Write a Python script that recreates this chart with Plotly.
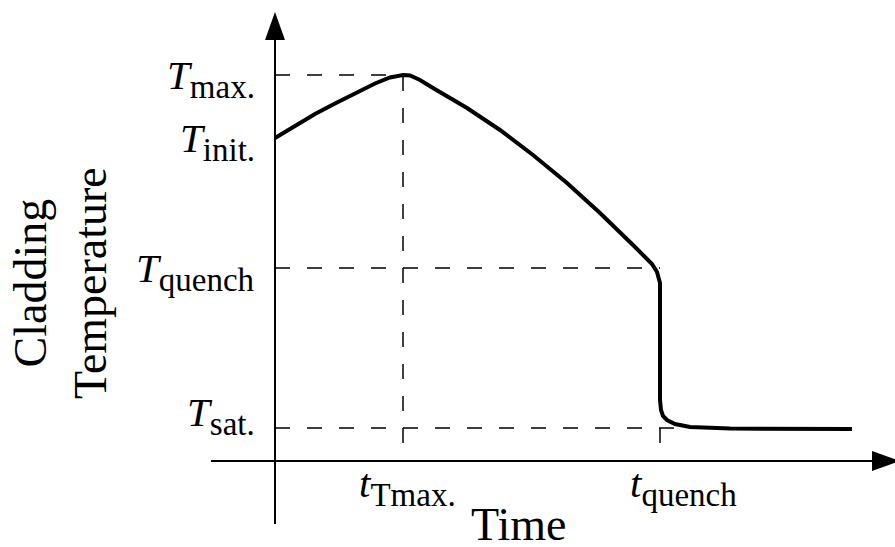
import plotly.graph_objects as go

# Schematic cladding temperature transient during a reflood (arbitrary units)
time = [0.0, 2.0, 4.0, 6.0, 8.0, 10.0, 11.5, 12.3, 12.8, 13.5, 14.5, 15.8,
        17.5, 19.2, 22.5, 25.8, 29.2, 32.5, 35.8, 37.0, 37.7, 38.2, 38.5,
        38.5, 38.6, 38.8, 39.2, 40.0, 41.5, 45.5, 57.7]
temperature = [32.3, 33.5, 34.7, 35.75, 36.8, 37.75, 38.35, 38.55, 38.6,
               38.55, 38.1, 37.3, 36.3, 35.3, 33.1, 30.6, 27.8, 24.8, 21.6,
               20.4, 19.7, 18.9, 17.8, 6.1, 5.1, 4.5, 4.1, 3.7, 3.4, 3.25, 3.2]

# characteristic levels and instants
T_init = 32.3
T_max = 38.6
T_quench = 19.3
T_sat = 3.3
t_Tmax = 12.8
t_quench = 38.5

y_tick_subs = ["max.", "init.", "quench", "sat."]
y_tick_values = [T_max, T_init, T_quench, T_sat]
x_tick_subs = ["Tmax.", "quench"]
x_tick_values = [t_Tmax, t_quench]

FONT = "Liberation Serif"
DASH = "15px,17px"
tick_len = 1.5


def math_label(symbol, sub):
    return ("<i>%s</i><sub><span style='font-size:33px'>%s</span></sub>"
            % (symbol, sub))


fig = go.Figure()


def guide(xs, ys, dash=DASH, width=1.5):
    fig.add_trace(go.Scatter(x=xs, y=ys, mode="lines", hoverinfo="skip",
                             line=dict(color="black", width=width, dash=dash),
                             showlegend=False))


# dashed guide lines
guide([0, t_Tmax], [T_max, T_max])
guide([t_Tmax, t_Tmax], [T_sat - tick_len, T_max])
guide([0, t_quench], [T_quench, T_quench])
guide([0, t_quench + tick_len], [T_sat, T_sat])
guide([t_quench, t_quench], [T_sat - tick_len, T_sat], dash="solid")

# axes
guide([-6.4, 59.8], [0, 0], dash="solid", width=2)
guide([0, 0], [-6.3, 42.2], dash="solid", width=2)

# temperature curve
fig.add_trace(go.Scatter(x=time, y=temperature, mode="lines", hoverinfo="skip",
                         line=dict(color="black", width=4),
                         showlegend=False))

# arrow heads
fig.add_shape(type="path", xref="x", yref="y",
              path="M -1.0 42.1 L 1.0 42.1 L 0 44.9 Z",
              fillcolor="black", line=dict(color="black", width=0))
fig.add_shape(type="path", xref="x", yref="y",
              path="M 59.7 -1.0 L 59.7 1.0 L 62.5 0 Z",
              fillcolor="black", line=dict(color="black", width=0))

annotations = []
y_shifts = [-3.5, -3.5, -3.5, 12.5]
for sub, val, ys in zip(y_tick_subs, y_tick_values, y_shifts):
    annotations.append(dict(x=-1.8, y=val, xref="x", yref="y",
                            text=math_label("T", sub),
                            xanchor="right", yanchor="middle", yshift=ys,
                            showarrow=False,
                            font=dict(family=FONT, size=41, color="black")))
x_offsets = [-4.6, -3.2]
for sub, val, dx in zip(x_tick_subs, x_tick_values, x_offsets):
    annotations.append(dict(x=val + dx, y=-1.0, xref="x", yref="y",
                            text=math_label("t", sub),
                            xanchor="left", yanchor="top", yshift=13,
                            showarrow=False,
                            font=dict(family=FONT, size=41, color="black")))
annotations.append(dict(x=24.3, y=-6.6, xref="x", yref="y", text="Time",
                        xanchor="center", yanchor="middle", yshift=3,
                        showarrow=False,
                        font=dict(family=FONT, size=46, color="black")))
annotations.append(dict(x=-21.5, y=17.8, xref="x", yref="y",
                        text="Cladding<br>Temperature", textangle=-90,
                        xanchor="center", yanchor="middle", showarrow=False,
                        font=dict(family=FONT, size=46, color="black")))

fig.update_layout(
    width=895, height=547,
    margin=dict(l=0, r=0, t=0, b=0),
    paper_bgcolor="white", plot_bgcolor="white",
    xaxis=dict(range=[-27.5, 62.0], visible=False, fixedrange=True),
    yaxis=dict(range=[-8.6, 46.1], visible=False, fixedrange=True),
    annotations=annotations,
)

fig.write_html("out.html")
